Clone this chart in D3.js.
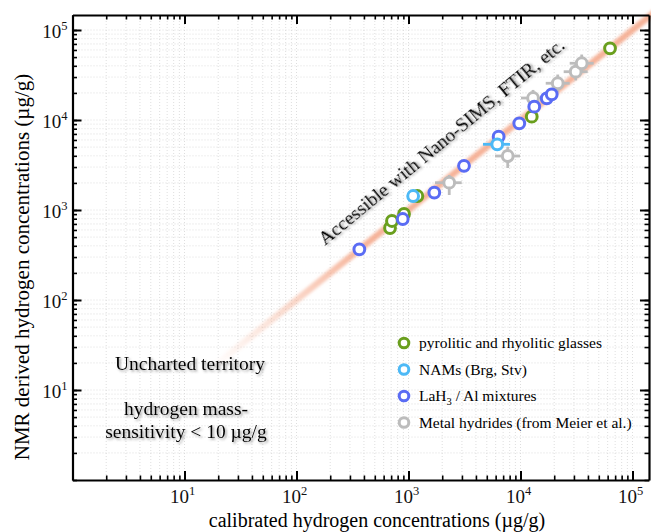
<!DOCTYPE html>
<html>
<head>
<meta charset="utf-8">
<script src="https://cdn.jsdelivr.net/npm/d3@7"></script>
<style>
  body { margin: 0; background: #fff; }
  svg { display: block; font-family: "Liberation Serif", "DejaVu Serif", serif; }
</style>
</head>
<body>
<script>
// --- data (µg/g) ---
const glassX = [684, 712, 912, 1200, 12600, 63000];
const glassY = [631, 755, 903, 1430, 10900, 62600];

const namsX = [1100, 6200];
const namsY = [1430, 5370];
const namsXLo = [1100, 4625];
const namsXHi = [1100, 8050];

const lahX = [364, 888, 1700, 3130, 6380, 9750, 13270, 17140, 19000];
const lahY = [366, 794, 1560, 3100, 6520, 9190, 14060, 17420, 19300];

const hydX = [2310, 7690, 12940, 21500, 31100, 35200];
const hydY = [2010, 3980, 17550, 25600, 34400, 42700];
const hydXLo = [1725, 5920, 10100, 16800, 24300, 27500];
const hydXHi = [2985, 9900, 16560, 27500, 39800, 45000];
const hydYLo = [1468, 2930, 14270, 20500, 27500, 34200];
const hydYHi = [2448, 5050, 21590, 32000, 43000, 53400];

const majorExps = [1, 2, 3, 4, 5];
const legendLabels = ["pyrolitic and rhyolitic glasses", "NAMs (Brg, Stv)", "LaH3 / Al mixtures", "Metal hydrides (from Meier et al.)"];
const colors = ["#6a9f1e", "#4db9f6", "#5a6cf4", "#bcbcbc"];

const width = 651, height = 532;
const mLeft = 72.5, mRight = 649, mTop = 15, mBottom = 480;

const x = d3.scaleLog().domain([1, Math.pow(10, (mRight - mLeft) / 112)]).range([mLeft, mRight]);
const y = d3.scaleLog().domain([1, Math.pow(10, (mBottom - mTop) / 90)]).range([mBottom, mTop]);

const minorX = [], minorY = [];
for (let d = 0; d <= 5; d++) {
  for (let k = 1; k <= 9; k++) {
    const v = k * Math.pow(10, d);
    if (v <= x.domain()[1]) minorX.push(v);
    if (v <= y.domain()[1]) minorY.push(v);
  }
}
const majors = majorExps.map(e => Math.pow(10, e));

const svg = d3.select("body").append("svg")
  .attr("width", width)
  .attr("height", height);

const defs = svg.append("defs");
const shadow = defs.append("filter").attr("id", "shadow")
  .attr("x", "-10%").attr("y", "-20%").attr("width", "130%").attr("height", "160%");
shadow.append("feDropShadow")
  .attr("dx", 1.6).attr("dy", 1.6).attr("stdDeviation", 1.2)
  .attr("flood-color", "#555").attr("flood-opacity", 0.6);

const blur = defs.append("filter").attr("id", "blur")
  .attr("x", "-20%").attr("y", "-20%").attr("width", "140%").attr("height", "140%");
blur.append("feGaussianBlur").attr("stdDeviation", 1.6);

const grad = defs.append("linearGradient").attr("id", "fade")
  .attr("gradientUnits", "userSpaceOnUse")
  .attr("x1", x(18)).attr("y1", y(18))
  .attr("x2", x(400)).attr("y2", y(400));
grad.append("stop").attr("offset", 0).attr("stop-color", "#f5ab8e").attr("stop-opacity", 0);
grad.append("stop").attr("offset", 1).attr("stop-color", "#f5ab8e").attr("stop-opacity", 0.9);

// grid
const grid = svg.append("g").attr("stroke", "#d6d6d6").attr("stroke-width", 0.8).attr("stroke-dasharray", "1,2");
grid.selectAll(".gx").data(minorX.filter(v => v > 1)).join("line")
  .attr("x1", d => x(d)).attr("x2", d => x(d)).attr("y1", mTop).attr("y2", mBottom);
grid.append("g").selectAll("line").data(minorY.filter(v => v > 1)).join("line")
  .attr("y1", d => y(d)).attr("y2", d => y(d)).attr("x1", mLeft).attr("x2", mRight);

// 1:1 line
svg.append("line")
  .attr("x1", x(18)).attr("y1", y(18))
  .attr("x2", x(2e5)).attr("y2", y(2e5))
  .attr("stroke", "url(#fade)")
  .attr("stroke-width", 6.5)
  .attr("filter", "url(#blur)");

// axes
const axisG = svg.append("g");
const addAxis = (axisFn, scale, minors, transform) => {
  axisG.append("g").attr("transform", transform)
    .call(axisFn(scale).tickValues(minors).tickSize(-4.5).tickFormat("").tickSizeOuter(0))
    .call(g => g.selectAll(".tick line").attr("stroke-width", 1.6))
    .call(g => g.select(".domain").attr("stroke-width", 2.2));
  axisG.append("g").attr("transform", transform)
    .call(axisFn(scale).tickValues(majors).tickSize(-9).tickFormat("").tickSizeOuter(0))
    .call(g => g.selectAll(".tick line").attr("stroke-width", 2))
    .call(g => g.select(".domain").remove());
};
addAxis(d3.axisBottom, x, minorX, `translate(0,${mBottom})`);
addAxis(d3.axisTop, x, minorX, `translate(0,${mTop})`);
addAxis(d3.axisLeft, y, minorY, `translate(${mLeft},0)`);
addAxis(d3.axisRight, y, minorY, `translate(${mRight},0)`);

// tick labels
const xl = svg.append("g").attr("font-size", 19).attr("fill", "#111");
majorExps.forEach(e => {
  const t = xl.append("text").attr("x", x(Math.pow(10, e)) - 2).attr("y", mBottom + 23).attr("text-anchor", "middle");
  t.append("tspan").text("10");
  t.append("tspan").attr("font-size", 12.5).attr("dy", -8).text(e);
});
const yl = svg.append("g").attr("font-size", 19).attr("fill", "#111");
majorExps.forEach(e => {
  const t = yl.append("text").attr("x", mLeft - 5).attr("y", y(Math.pow(10, e)) + 7.5).attr("text-anchor", "end");
  t.append("tspan").text("10");
  t.append("tspan").attr("font-size", 12.5).attr("dy", -8).text(e);
});

// axis titles
svg.append("text")
  .attr("x", 377).attr("y", 527)
  .attr("text-anchor", "middle").attr("font-size", 20)
  .text("calibrated hydrogen concentrations (µg/g)");
svg.append("text")
  .attr("transform", "translate(29,267) rotate(-90)")
  .attr("text-anchor", "middle").attr("font-size", 21)
  .text("NMR derived hydrogen concentrations (µg/g)");

// annotations
svg.append("text")
  .attr("transform", "translate(325,246) rotate(-39.5)")
  .attr("font-size", 19.5)
  .attr("filter", "url(#shadow)")
  .text("Accessible with Nano-SIMS, FTIR, etc.");
const ann = svg.append("g").attr("font-size", 19.5).attr("text-anchor", "middle").attr("filter", "url(#shadow)");
ann.append("text").attr("x", 190).attr("y", 370).text("Uncharted territory");
ann.append("text").attr("x", 186).attr("y", 415).text("hydrogen mass-");
ann.append("text").attr("x", 186).attr("y", 438).text("sensitivity < 10 µg/g");

// data
const pts = svg.append("g");
const errG = pts.append("g").attr("stroke-width", 2.8);

const series = (xs, ys, color) => {
  pts.append("g").selectAll("circle")
    .data(xs.map((v, i) => [v, ys[i]]))
    .join("circle")
    .attr("cx", d => x(d[0]))
    .attr("cy", d => y(d[1]))
    .attr("r", 5.4)
    .attr("fill", "#fff")
    .attr("stroke", color)
    .attr("stroke-width", 3);
};

// metal hydrides with error crosses
hydX.forEach((v, i) => {
  errG.append("line").attr("stroke", colors[3])
    .attr("x1", x(hydXLo[i])).attr("x2", x(hydXHi[i])).attr("y1", y(hydY[i])).attr("y2", y(hydY[i]));
  errG.append("line").attr("stroke", colors[3])
    .attr("x1", x(v)).attr("x2", x(v)).attr("y1", y(hydYLo[i])).attr("y2", y(hydYHi[i]));
});
series(hydX, hydY, colors[3]);
series(glassX, glassY, colors[0]);
series(lahX, lahY, colors[2]);
namsX.forEach((v, i) => {
  pts.append("line").attr("stroke", colors[1]).attr("stroke-width", 2.8)
    .attr("x1", x(namsXLo[i])).attr("x2", x(namsXHi[i])).attr("y1", y(namsY[i])).attr("y2", y(namsY[i]));
});
series(namsX, namsY, colors[1]);

// legend
const leg = svg.append("g").attr("transform", "translate(404,343)");
legendLabels.forEach((lab, i) => {
  const row = leg.append("g").attr("transform", `translate(0,${i * 26.5})`);
  row.append("circle").attr("r", 4.8).attr("fill", "#fff").attr("stroke", colors[i]).attr("stroke-width", 3);
  const t = row.append("text").attr("x", 15).attr("y", 5).attr("font-size", 15.5);
  if (lab.startsWith("LaH3")) {
    t.append("tspan").text("LaH");
    t.append("tspan").attr("font-size", 10.5).attr("dy", 3.5).text("3");
    t.append("tspan").attr("dy", -3.5).text(" / Al mixtures");
  } else {
    t.text(lab);
  }
});
</script>
</body>
</html>
